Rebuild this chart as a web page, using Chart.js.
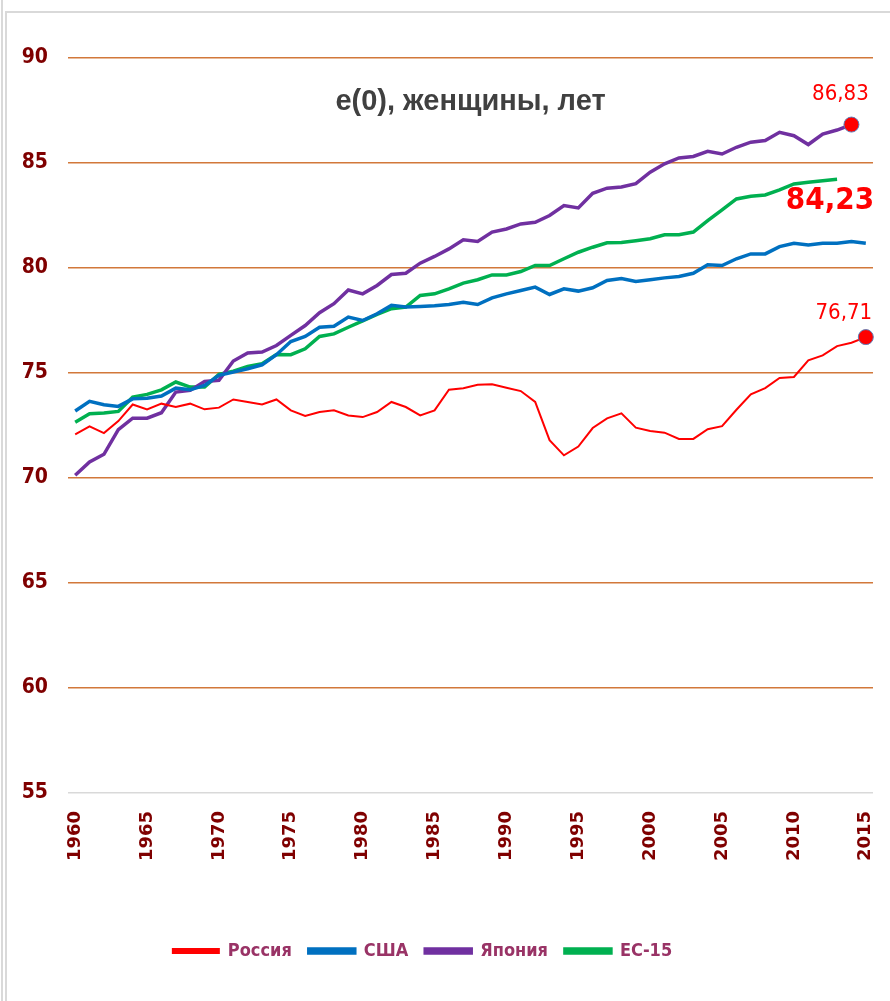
<!DOCTYPE html>
<html>
<head>
<meta charset="utf-8">
<script src="https://cdn.jsdelivr.net/npm/chart.js@4/dist/chart.umd.min.js"></script>
<style>
  html, body { margin: 0; padding: 0; background: #fff; }
  #wrap { width: 890px; height: 1001px; position: relative; }
</style>
</head>
<body>
<div id="wrap"><canvas id="myChart" width="890" height="1001"></canvas></div>
<script>
/* e(0) for women: Russia, USA, Japan, EU-15 */

let years = [1960, 1961, 1962, 1963, 1964, 1965, 1966, 1967, 1968, 1969,
  1970, 1971, 1972, 1973, 1974, 1975, 1976, 1977, 1978, 1979,
  1980, 1981, 1982, 1983, 1984, 1985, 1986, 1987, 1988, 1989,
  1990, 1991, 1992, 1993, 1994, 1995, 1996, 1997, 1998, 1999,
  2000, 2001, 2002, 2003, 2004, 2005, 2006, 2007, 2008, 2009,
  2010, 2011, 2012, 2013, 2014, 2015];

let russia = [72.08, 72.46, 72.14, 72.71, 73.50, 73.27, 73.54, 73.38, 73.54, 73.27,
  73.35, 73.74, 73.62, 73.50, 73.74, 73.22, 72.95, 73.14, 73.22, 72.98,
  72.90, 73.14, 73.62, 73.38, 72.98, 73.22, 74.20, 74.27, 74.44, 74.46,
  74.30, 74.14, 73.62, 71.80, 71.08, 71.50, 72.38, 72.84, 73.08, 72.40,
  72.24, 72.16, 71.86, 71.86, 72.32, 72.47, 73.25, 73.98, 74.28, 74.76,
  74.81, 75.60, 75.84, 76.28, 76.44, 76.71];

let usa = [73.19, 73.65, 73.49, 73.41, 73.77, 73.80, 73.90, 74.28, 74.20, 74.41,
  74.89, 75.04, 75.20, 75.39, 75.87, 76.50, 76.74, 77.18, 77.23, 77.66,
  77.50, 77.82, 78.22, 78.14, 78.17, 78.20, 78.26, 78.37, 78.26, 78.58,
  78.77, 78.93, 79.09, 78.74, 79.01, 78.90, 79.06, 79.41, 79.50, 79.36,
  79.44, 79.53, 79.60, 79.75, 80.15, 80.12, 80.44, 80.67, 80.67, 81.02,
  81.18, 81.10, 81.18, 81.18, 81.26, 81.18];

let japan = [70.13, 70.76, 71.13, 72.30, 72.85, 72.85, 73.11, 74.09, 74.17, 74.60,
  74.65, 75.57, 75.95, 76.00, 76.31, 76.79, 77.26, 77.87, 78.30, 78.95,
  78.77, 79.17, 79.69, 79.75, 80.23, 80.55, 80.91, 81.34, 81.26, 81.71,
  81.86, 82.10, 82.18, 82.50, 82.97, 82.86, 83.56, 83.80, 83.86, 84.02,
  84.56, 84.96, 85.24, 85.31, 85.56, 85.43, 85.75, 85.99, 86.07, 86.46,
  86.30, 85.88, 86.38, 86.57, 86.83, null];

let eu15 = [72.66, 73.06, 73.09, 73.17, 73.85, 73.98, 74.20, 74.57, 74.33, 74.33,
  74.93, 75.09, 75.31, 75.44, 75.88, 75.87, 76.15, 76.74, 76.86, 77.18,
  77.48, 77.79, 78.06, 78.14, 78.69, 78.77, 79.01, 79.28, 79.44, 79.67,
  79.67, 79.83, 80.12, 80.12, 80.44, 80.75, 80.99, 81.20, 81.22, 81.30,
  81.39, 81.58, 81.58, 81.71, 82.26, 82.77, 83.29, 83.42, 83.48, 83.72,
  84.00, 84.08, 84.16, 84.23, null, null];

let seriesNames = ['Россия', 'США', 'Япония', 'ЕС-15'];
let colorHex = ['#ff0000', '#0070c0', '#7030a0', '#00b050'];
let lineWidths = [2, 3.5, 3.5, 3.5];
let yMin = 55, yMax = 90, yStep = 5;
let titleText = 'e(0), женщины, лет';

const narrow = '"Liberation Sans Narrow", "DejaVu Sans Condensed", "Liberation Sans", sans-serif';

function lastIndex(arr) {
  for (let i = arr.length - 1; i >= 0; i--) if (arr[i] !== null) return i;
  return -1;
}

// which series get a dot at the end, and the value label styling
let markedDots = [0, 2];
let endLabels = [
  { ds: 2, font: '22px ' + narrow, dx: -11, dy: -30, align: 'center' },
  { ds: 3, font: 'bold 31px ' + narrow, dx: 37, dy: 22, align: 'right' },
  { ds: 0, font: '22px ' + narrow, dx: -22, dy: -24, align: 'center' }
];

const frame = {
  id: 'frame',
  beforeDraw(chart) {
    const c = chart.ctx;
    c.save();
    c.strokeStyle = '#d9d9d9';
    c.lineWidth = 2;
    c.beginPath();
    c.moveTo(2, 0); c.lineTo(2, chart.height);
    c.moveTo(6, chart.height); c.lineTo(6, 12); c.lineTo(chart.width, 12);
    c.stroke();
    c.restore();
  },
  afterLayout(chart) {
    // legend sits a bit left of centre in the original
    chart.legend.right -= 36;
  }
};

const endLabelPlugin = {
  id: 'endLabels',
  afterDatasetsDraw(chart) {
    const c = chart.ctx;
    const area = chart.chartArea;
    // title inside plot
    c.save();
    c.fillStyle = '#404040';
    c.font = 'bold 29px "Liberation Sans", Arial, sans-serif';
    c.textAlign = 'center';
    c.textBaseline = 'middle';
    c.fillText(titleText, area.left + area.width * 0.50, area.top + 44);
    c.restore();

    endLabels.forEach(l => {
      const data = chart.data.datasets[l.ds].data;
      const i = lastIndex(data);
      const pt = chart.getDatasetMeta(l.ds).data[i];
      c.save();
      c.fillStyle = '#ff0000';
      c.font = l.font;
      c.textAlign = l.align;
      c.textBaseline = 'middle';
      c.fillText(data[i].toFixed(2).replace('.', ','), pt.x + l.dx, pt.y + l.dy);
      c.restore();
    });
  }
};

const allSeries = [russia, usa, japan, eu15];

let ctx = document.getElementById('myChart').getContext('2d');

let myChart = new Chart(ctx, {
  type: 'line',
  data: {
    labels: years,
    datasets: allSeries.map((s, k) => ({
      label: seriesNames[k],
      data: s,
      borderColor: colorHex[k],
      backgroundColor: colorHex[k],
      borderWidth: lineWidths[k],
      tension: 0,
      pointRadius: (context) => {
        return (markedDots.includes(k) && context.dataIndex === lastIndex(s)) ? 7.5 : 0;
      },
      pointBackgroundColor: '#ff0000',
      pointBorderColor: '#5b7bb5',
      pointBorderWidth: 1,
      pointHoverRadius: 0
    }))
  },
  options: {
    responsive: false,
    animation: false,
    layout: {
      padding: { top: 58, left: 8, right: 17, bottom: 31 }
    },
    plugins: {
      legend: {
        position: 'bottom',
        labels: {
          boxWidth: 46,
          boxHeight: 4,
          padding: 17,
          color: '#993366',
          font: { family: narrow, size: 18, weight: 'bold' }
        }
      },
      tooltip: { enabled: false }
    },
    scales: {
      x: {
        type: 'category',
        offset: true,
        grid: { display: false, drawTicks: false },
        border: { display: false },
        ticks: {
          autoSkip: false,
          maxRotation: 90,
          minRotation: 90,
          padding: 18,
          color: '#7f0000',
          font: { family: '"DejaVu Sans", sans-serif', size: 18, weight: 'bold' },
          callback: function (value, index) {
            const y = years[index];
            return y % 5 === 0 ? String(y) : null;
          }
        },
        afterFit: (scale) => {
          scale.height = 132;
          scale.paddingLeft = 0;
          scale.paddingRight = 0;
        }
      },
      y: {
        min: yMin,
        max: yMax,
        ticks: {
          stepSize: yStep,
          padding: 20,
          color: '#7f0000',
          font: { family: narrow, size: 21, weight: 'bold' }
        },
        grid: {
          drawTicks: false,
          lineWidth: 1.5,
          color: (context) => context.tick && context.tick.value === yMin ? '#d9d9d9' : '#d2783a'
        },
        border: { display: false },
        afterFit: (scale) => { scale.width = 60; }
      }
    }
  },
  plugins: [frame, endLabelPlugin]
});
</script>
</body>
</html>
